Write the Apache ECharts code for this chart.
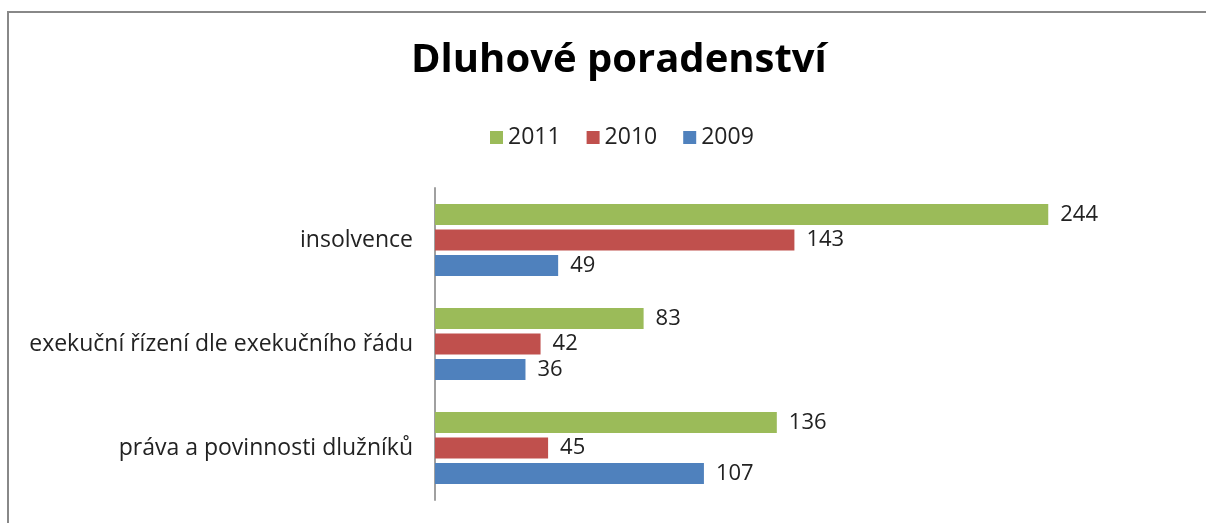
<!DOCTYPE html>
<html>
<head>
<meta charset="utf-8">
<script src="https://cdn.jsdelivr.net/npm/echarts@6/dist/echarts.min.js"></script>
<style>
  html, body { margin: 0; padding: 0; background: #fff; }
  #chart { width: 1206px; height: 523px; }
</style>
</head>
<body>
<div id="chart"></div>
<script>
var categories = ['insolvence', 'exekuční řízení dle exekučního řádu', 'práva a povinnosti dlužníků'];
var years = ['2011', '2010', '2009'];
var values2011 = [244, 83, 136];
var values2010 = [143, 42, 45];
var values2009 = [49, 36, 107];
var colors = ['#9bbb59', '#c0504d', '#4f81bd'];

var font = '"Open Sans", sans-serif';
var myChart = echarts.init(document.getElementById('chart'));

var seriesData = [values2011, values2010, values2009];
var series = years.map(function (y, i) {
  return {
    name: y,
    type: 'bar',
    data: seriesData[i],
    barWidth: 21,
    barGap: '22%',
    itemStyle: { color: colors[i] },
    label: {
      show: true,
      position: 'right',
      distance: 12,
      color: '#222',
      fontSize: 22,
      fontFamily: font
    }
  };
});

var option = {
  animation: false,
  title: {
    text: 'Dluhové poradenství',
    left: 406,
    top: 36,
    textStyle: { fontSize: 40, fontWeight: 'bold', color: '#000', fontFamily: font }
  },
  legend: {
    data: years,
    top: 121,
    left: 485,
    itemWidth: 13,
    itemHeight: 13,
    itemGap: 26,
    icon: 'rect',
    textStyle: { fontSize: 23, color: '#222', fontFamily: font }
  },
  grid: { left: 435, top: 188, width: 754, height: 312 },
  xAxis: {
    type: 'value',
    min: 0,
    max: 300,
    show: false,
    splitLine: { show: false }
  },
  yAxis: {
    type: 'category',
    data: categories,
    inverse: true,
    axisLine: { lineStyle: { color: '#a0a0a0', width: 2 } },
    axisTick: { show: false },
    axisLabel: { fontSize: 23, color: '#222', margin: 22, fontFamily: font }
  },
  graphic: [{
    type: 'rect',
    shape: { x: 8, y: 12, width: 1230, height: 540 },
    style: { fill: 'none', stroke: '#888', lineWidth: 2 }
  }],
  series: series
};
option && myChart.setOption(option);
</script>
</body>
</html>
